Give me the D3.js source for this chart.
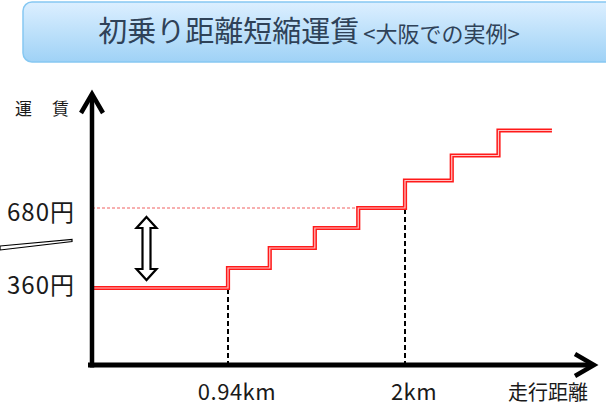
<!DOCTYPE html>
<html><head><meta charset="utf-8">
<script src="https://cdn.jsdelivr.net/npm/d3@7"></script>
<style>
html,body{margin:0;padding:0;background:#fff;}
svg{display:block;font-family:"Noto Sans CJK JP","Noto Sans",sans-serif;}
</style></head>
<body>
<script>
// ---- data ----
const title = "初乗り距離短縮運賃";
const subtitle = "<大阪での実例>";
const yAxisLabel = "運　賃";
const xAxisLabel = "走行距離";
const stepKm = [0, 0.94, 1.19, 1.46, 1.72, 2.0, 2.28, 2.56, 2.88];   // step start distances (last = line end)
const stepFare = [360, 440, 520, 600, 680, 790, 890, 990, 990];      // fare from that distance on
const fareTicks = [360, 680];
const fareTickLabels = ["360円", "680円"];
const kmTicks = [0.94, 2];
const kmTickLabels = ["0.94km", "2km"];

const W = 606, H = 405;
const svg = d3.select("body").append("svg").attr("width", W).attr("height", H);
const defs = svg.append("defs");

// title box
const g = defs.append("linearGradient").attr("id","tg").attr("x1",0).attr("y1",0).attr("x2",0).attr("y2",1);
g.append("stop").attr("offset","0%").attr("stop-color","#dcefff");
g.append("stop").attr("offset","100%").attr("stop-color","#9fd2f6");
svg.append("rect").attr("x",23).attr("y",2).attr("width",620).attr("height",60).attr("rx",9)
  .attr("fill","url(#tg)").attr("stroke","#86c8f2").attr("stroke-width",1.5);
const tt = svg.append("text").attr("x",309).attr("y",42).attr("text-anchor","middle").attr("fill","#2f4258");
tt.append("tspan").attr("font-size",29).text(title);
tt.append("tspan").attr("font-size",22).attr("dx",4).text(subtitle);

// scales
const x = d3.scaleLinear().domain([0, 0.94, 2]).range([92, 228, 405]);
const y = d3.scaleLinear().domain([360, 680]).range([288, 208]);
const axisY = 365;

// dotted 680 guide
svg.append("line").attr("x1",x(0)).attr("x2",x(stepKm[4])).attr("y1",y(680)).attr("y2",y(680))
  .attr("stroke","#f06060").attr("stroke-width",1).attr("stroke-dasharray","3,2");

// dashed verticals
kmTicks.forEach((k,i)=>{
  svg.append("line").attr("x1",x(k)).attr("x2",x(k)).attr("y1",y(fareTicks[i])+1).attr("y2",axisY)
    .attr("stroke","#000").attr("stroke-width",2).attr("stroke-dasharray","5,3");
});

// step line (double red)
const pts = stepKm.map((k,i)=>[k, stepFare[i]]);
const line = d3.line().x(d=>x(d[0])).y(d=>y(d[1])).curve(d3.curveStepAfter);
svg.append("path").attr("d",line(pts)).attr("fill","none").attr("stroke","#ff1a1a").attr("stroke-width",4.2);
svg.append("path").attr("d",line(pts)).attr("fill","none").attr("stroke","#ffc4c4").attr("stroke-width",1.2);

// axes
svg.append("line").attr("x1",x(0)).attr("x2",x(0)).attr("y1",axisY+2.5).attr("y2",95)
  .attr("stroke","#000").attr("stroke-width",4.5);
svg.append("path").attr("d",`M${x(0)-11},${113} L${x(0)},${94} L${x(0)+11},${113}`)
  .attr("fill","none").attr("stroke","#000").attr("stroke-width",4.5).attr("stroke-linejoin","miter");
svg.append("line").attr("x1",88).attr("x2",593).attr("y1",axisY).attr("y2",axisY)
  .attr("stroke","#000").attr("stroke-width",5);
svg.append("path").attr("d",`M575,${axisY-11} L594,${axisY} L575,${axisY+11}`)
  .attr("fill","none").attr("stroke","#000").attr("stroke-width",4.5);

// axis labels
svg.append("text").attr("x",15).attr("y",115).attr("font-size",17).attr("fill","#1a1a1a").text(yAxisLabel)
  .attr("letter-spacing","1.5px");
svg.append("text").attr("x",588).attr("y",400).attr("text-anchor","end").attr("font-size",20).attr("fill","#1a1a1a").text(xAxisLabel);

// tick labels
fareTicks.forEach((f,i)=>{
  svg.append("text").attr("x",75).attr("y",y(f)+(i===0?6:13)).attr("text-anchor","end").attr("font-size",24)
    .attr("fill","#1a1a1a").attr("letter-spacing","1px").text(fareTickLabels[i]);
});
kmTicks.forEach((k,i)=>{
  svg.append("text").attr("x",x(k)+9).attr("y",400).attr("text-anchor","middle").attr("font-size",22)
    .attr("fill","#1a1a1a").attr("letter-spacing","0.5px").text(kmTickLabels[i]);
});

// slash mark on left
svg.append("path").attr("d","M0,246 L72,239.5 L72,241.5 L0,250 Z").attr("fill","#fff").attr("stroke","#000").attr("stroke-width",1.2);

// double-headed arrow
const ax = 146.5, at = y(680)+9, ab = y(360)-8;
svg.append("path").attr("d",
  `M${ax},${at} L${ax+10},${at+11} L${ax+4},${at+11} L${ax+4},${ab-11} L${ax+10},${ab-11} L${ax},${ab} L${ax-10},${ab-11} L${ax-4},${ab-11} L${ax-4},${at+11} L${ax-10},${at+11} Z`)
  .attr("fill","#fff").attr("stroke","#000").attr("stroke-width",2.2).attr("stroke-linejoin","miter");
</script>
</body></html>
